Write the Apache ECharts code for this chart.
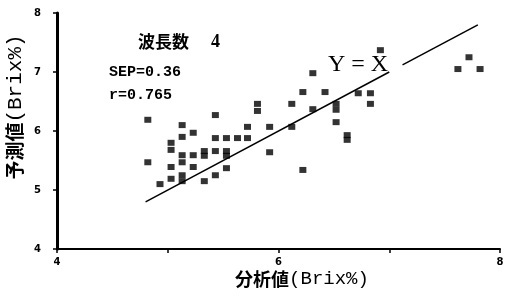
<!DOCTYPE html>
<html>
<head>
<meta charset="utf-8">
<script src="https://cdn.jsdelivr.net/npm/echarts@6/dist/echarts.min.js"></script>
<style>
html,body{margin:0;padding:0;background:#fff;}
#chart{width:519px;height:300px;}
</style>
</head>
<body>
<div id="chart"></div>
<script>
// Measured (分析値, 予測値) pairs, Brix %
const analysisValues = [
  4.82, 4.82,
  4.93,
  5.03, 5.03, 5.03, 5.03,
  5.13, 5.13, 5.13, 5.13, 5.13, 5.13,
  5.23, 5.23, 5.23,
  5.33, 5.33, 5.33,
  5.43, 5.43, 5.43, 5.43,
  5.53, 5.53, 5.53, 5.53,
  5.63,
  5.72, 5.72,
  5.81, 5.81,
  5.92, 5.92,
  6.12, 6.12,
  6.22, 6.22,
  6.31, 6.31,
  6.42,
  6.52, 6.52, 6.52,
  6.62, 6.62,
  6.72,
  6.83, 6.83,
  6.92,
  7.62, 7.72, 7.82
];
const predictedValues = [
  6.19, 5.47,
  5.10,
  5.80, 5.68, 5.39, 5.19,
  6.10, 5.90, 5.59, 5.47, 5.25, 5.15,
  5.97, 5.59, 5.39,
  5.66, 5.58, 5.15,
  6.27, 5.88, 5.66, 5.25,
  5.88, 5.66, 5.58, 5.37,
  5.88,
  6.07, 5.88,
  6.46, 6.34,
  6.07, 5.64,
  6.46, 6.07,
  6.66, 5.34,
  6.98, 6.37,
  6.66,
  6.46, 6.36, 6.15,
  5.93, 5.85,
  6.64,
  6.64, 6.46,
  7.37,
  7.05, 7.25, 7.05
];
// Y = X reference line (broken around its label)
const identityLower = [4.8, 7.0];
const identityUpper = [7.12, 7.8];
const xTicks = [4, 6, 8];
const yTicks = [4, 5, 6, 7, 8];

const points = analysisValues.map((v, i) => [v, predictedValues[i]]);

const chart = echarts.init(document.getElementById('chart'), null, {renderer: 'canvas'});
const tickFont = {color: '#000', fontSize: 10, fontWeight: 'bold', fontFamily: 'DejaVu Sans'};

chart.setOption({
  backgroundColor: '#fff',
  animation: false,
  grid: {left: 57, right: 19, top: 13, bottom: 51, containLabel: false},
  xAxis: {
    type: 'value', min: 4, max: 8, interval: 1,
    axisLine: {show: true, onZero: false, lineStyle: {color: '#000', width: 2}},
    axisTick: {show: true, length: 4, lineStyle: {color: '#000', width: 1.5}},
    splitLine: {show: false},
    axisLabel: Object.assign({margin: 8, formatter: v => xTicks.includes(v) ? String(v) : ''}, tickFont)
  },
  yAxis: {
    type: 'value', min: 4, max: 8, interval: 1,
    axisLine: {show: true, onZero: false, lineStyle: {color: '#000', width: 3}},
    axisTick: {show: true, length: 4, lineStyle: {color: '#000', width: 1.5}},
    splitLine: {show: false},
    axisLabel: Object.assign({margin: 16, formatter: v => yTicks.includes(v) ? String(v) : ''}, tickFont)
  },
  series: [
    {
      type: 'scatter', data: points, symbol: 'rect', symbolSize: [7, 6],
      itemStyle: {color: '#000'}
    },
    {
      type: 'line', data: identityLower.map(v => [v, v]), symbol: 'none',
      lineStyle: {color: '#000', width: 1.5}
    },
    {
      type: 'line', data: identityUpper.map(v => [v, v]), symbol: 'none',
      lineStyle: {color: '#000', width: 1.5}
    }
  ],
  graphic: [
    {
      type: 'text', x: 15, y: 107, rotation: Math.PI / 2,
      style: {
        text: '{c|予測値}{l|(Brix%)}', align: 'center', verticalAlign: 'middle',
        rich: {
          c: {fontSize: 19, fontWeight: 'bold', fontFamily: 'Noto Sans CJK JP', fill: '#000'},
          l: {fontSize: 21, fontFamily: 'Liberation Mono', fill: '#000'}
        }
      }
    },
    {
      type: 'text', x: 302, y: 279,
      style: {
        text: '{c|分析値}{l|(Brix%)}', align: 'center', verticalAlign: 'middle',
        rich: {
          c: {fontSize: 18, fontWeight: 'bold', fontFamily: 'Noto Sans CJK JP', fill: '#000'},
          l: {fontSize: 19, fontFamily: 'Liberation Mono', fill: '#000'}
        }
      }
    },
    {
      type: 'text', x: 138, y: 42,
      style: {
        text: '{c|波長数}{n|4}', align: 'left', verticalAlign: 'middle',
        rich: {
          c: {fontSize: 17, fontWeight: 'bold', fontFamily: 'Noto Sans CJK JP', fill: '#000'},
          n: {fontSize: 18, fontWeight: 'bold', fontFamily: 'Liberation Serif', fill: '#000', padding: [0, 0, 0, 22]}
        }
      }
    },
    {
      type: 'text', x: 109, y: 72,
      style: {text: 'SEP=0.36', align: 'left', verticalAlign: 'middle', fontSize: 15, fontWeight: 'bold', fontFamily: 'Liberation Mono', fill: '#000'}
    },
    {
      type: 'text', x: 109, y: 95,
      style: {text: 'r=0.765', align: 'left', verticalAlign: 'middle', fontSize: 15, fontWeight: 'bold', fontFamily: 'Liberation Mono', fill: '#000'}
    },
    {
      type: 'text', x: 358, y: 65,
      style: {text: 'Y = X', align: 'center', verticalAlign: 'middle', fontSize: 24, fontFamily: 'Liberation Serif', fill: '#000'}
    }
  ]
});
</script>
</body>
</html>
